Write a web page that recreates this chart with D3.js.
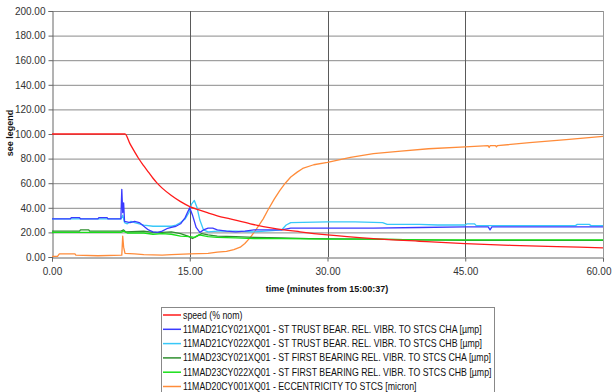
<!DOCTYPE html>
<html><head><meta charset="utf-8">
<script src="https://cdn.jsdelivr.net/npm/d3@7/dist/d3.min.js"></script>
<style>body{margin:0;background:#fff;}svg{display:block;font-family:"Liberation Sans",Arial,sans-serif;}</style>
</head><body><svg id="c" width="612" height="392"></svg>
<script>
const xTicks = [0, 15, 30, 45, 60];
const yTicks = [0, 20, 40, 60, 80, 100, 120, 140, 160, 180, 200];
const xTitle = "time (minutes from 15:00:37)";
const yTitle = "see legend";
const seriesNames = [
  "speed (% nom)",
  "11MAD21CY021XQ01 - ST TRUST BEAR. REL. VIBR. TO STCS CHA [µmp]",
  "11MAD21CY022XQ01 - ST TRUST BEAR. REL. VIBR. TO STCS CHB [µmp]",
  "11MAD23CY021XQ01 - ST FIRST BEARING REL. VIBR. TO STCS CHA [µmp]",
  "11MAD23CY022XQ01 - ST FIRST BEARING REL. VIBR. TO STCS CHB [µmp]",
  "11MAD20CY001XQ01 - ECCENTRICITY TO STCS [micron]"
];
const seriesColors = ["#ff1a1a", "#3a3aff", "#38c8f8", "#2f8f2f", "#19e019", "#ff8c3a"];

const speed = [[0,100],[7.95,100],[8.5,92],[9,85.5],[9.4,80.5],[10,74],[10.5,69],[11,64],[11.4,60.5],[12,56],[13,50],[14,45],[15,41],[16,38.3],[17,35.8],[18,33.5],[19.4,31],[21.6,27],[24,23.5],[27,20.5],[30,18],[35,15],[40,12.8],[45,10.8],[50,9.5],[55,8.5],[60,7.5]];
const vibr21A = [[0,31],[2,31],[2.1,32],[3,32],[3.1,31],[5,31],[5.1,32],[6,32],[6.1,31],[7.5,31],[7.6,55],[7.7,36],[7.8,44],[7.9,29],[8.5,28],[9,29],[9.5,28],[10,25],[10.5,22],[11,20.5],[11.5,20],[12,21],[12.5,23],[13,24],[13.5,25],[14,27],[14.5,32],[14.8,37],[15.0,40],[15.3,34],[15.7,24],[16.1,20],[16.5,22],[17,23.5],[17.5,23.5],[18,22],[19,21],[20,20.5],[21,21],[22,22],[23,22],[24,22],[25,22],[26,23.5],[30,23.5],[35,23.5],[40,24],[45,24.5],[47.5,24.5],[47.7,22],[47.9,24.5],[60,24.5]];
const vibr21B = [[0,31],[7.5,31],[7.7,34],[7.9,28],[8.2,27],[8.6,29],[9,28],[10,26],[11,25],[12,25],[13,25],[13.5,26],[14,28],[14.5,31],[14.9,36],[15.2,43],[15.5,46],[15.8,40],[16.1,30],[16.5,22],[17,20.5],[18,21],[20,21],[22,20.5],[24,21.5],[25,22],[25.5,26],[26,28],[30,28.5],[33,28.5],[36,28],[36.5,26.5],[40,26.5],[42,26],[45,26],[45.2,27],[46,27],[46.2,25.5],[57,25.5],[57.2,26.5],[58.5,26.5],[58.7,25.5],[60,25.5]];
const bear23A = [[0,21],[3,21],[3.1,22],[4,22],[4.1,21],[7.5,21],[7.8,22],[8,20.5],[10,21],[11,20],[12,20],[13,20.5],[14,19],[14.8,17],[15.3,15],[15.8,17],[16.3,19],[17,18],[18,17],[20,16.5],[22,16],[25,15.5],[28,15],[35,14.5],[40,14],[45,13.5],[60,13.5]];
const bear23B = [[0,20],[7.5,20],[7.8,21],[8.2,19.5],[10,19.5],[11,18.5],[12,19],[13,18.5],[14,17],[15,16.5],[15.5,16],[16,18],[17,16.5],[18,16],[20,15.5],[22,15],[25,15],[30,14.5],[35,14.5],[40,14],[45,14],[60,14]];
const eccent = [[0,0.5],[0.6,0.5],[0.8,2.5],[2.5,2.5],[2.6,1.5],[5,1],[7.6,1.5],[7.7,17],[7.8,8],[7.95,3],[9,2.5],[10,2],[12,1.5],[13,2],[15,2.5],[17,3],[18,4],[19,4.5],[19.8,6],[20.5,8],[21,11],[21.6,16],[22.2,22],[23,31],[23.5,38],[24.2,47],[24.8,54],[25.4,60],[26,65],[26.7,69],[27.3,72],[28.5,75],[30,77],[32.5,81],[35,84],[38,86],[41,88],[45,89.5],[47.5,90.5],[47.6,89],[47.7,90.5],[48.3,90.5],[48.4,89.5],[48.5,90.5],[52,93],[56,95.5],[60,98]];
const seriesData = [speed, vibr21A, vibr21B, bear23A, bear23B, eccent];

const svg = d3.select("#c");
const m = {l:52, r:603, t:11, b:257};
const x = d3.scaleLinear().domain([0,60]).range([m.l, m.r]);
const y = d3.scaleLinear().domain([0,200]).range([m.b, m.t]);

svg.append("g").selectAll("line").data(yTicks.filter(d=>d>0)).join("line")
  .attr("x1", m.l).attr("x2", m.r).attr("y1", d=>y(d)+0.5).attr("y2", d=>y(d)+0.5)
  .attr("stroke", "#8a8a8a").attr("stroke-width", 1);
svg.append("g").selectAll("line").data(xTicks.filter(d=>d>0)).join("line")
  .attr("x1", d=>Math.round(x(d))+0.5).attr("x2", d=>Math.round(x(d))+0.5).attr("y1", m.t).attr("y2", m.b)
  .attr("stroke", d=> d===60 ? "#9a9a9a" : "#5a5a5a").attr("stroke-width", 1);

const yAxis = d3.axisLeft(y).tickValues(yTicks).tickFormat(d3.format(".2f")).tickSize(4).tickPadding(3);
const gy = svg.append("g").attr("transform", `translate(${m.l+0.5},0)`).call(yAxis);
const xAxis = d3.axisBottom(x).tickValues(xTicks).tickFormat(d3.format(".2f")).tickSize(4).tickPadding(6);
const gx = svg.append("g").attr("transform", `translate(0,${m.b+0.5})`).call(xAxis);
[gx, gy].forEach(g => {
  g.select(".domain").attr("stroke", "#666");
  g.selectAll(".tick line").attr("stroke", "#666");
  g.selectAll("text").attr("fill", "#333").style("font-size", "10px").style("font-family", "'Liberation Sans',Arial,sans-serif");
});
gx.selectAll(".tick").filter(d=>d===60).select("text").attr("text-anchor", "end").attr("dx", 8);

const line = d3.line().x(d=>x(d[0])).y(d=>y(d[1]));
const smooth = d3.line().curve(d3.curveMonotoneX).x(d=>x(d[0])).y(d=>y(d[1]));
const order = [5, 3, 4, 2, 1, 0];
svg.append("g").selectAll("path").data(order).join("path")
  .attr("d", i=> i===0 ? smooth(seriesData[i]) : line(seriesData[i])).attr("fill", "none")
  .attr("stroke", i=>seriesColors[i]).attr("stroke-width", 1.3).attr("stroke-linejoin", "round");

svg.append("text").attr("x", 327).attr("y", 292).attr("text-anchor", "middle")
  .style("font-size", "9px").style("font-weight", "bold").attr("fill", "#111").text(xTitle);
svg.append("text").attr("transform", "translate(13,133) rotate(-90)").attr("text-anchor", "middle")
  .style("font-size", "9px").style("font-weight", "bold").attr("fill", "#111").text(yTitle);

const lg = svg.append("g");
lg.append("rect").attr("x", 161.5).attr("y", 307.5).attr("width", 333).attr("height", 100)
  .attr("fill", "#fff").attr("stroke", "#888");
const rows = lg.selectAll("g.r").data(seriesNames).join("g").attr("class","r")
  .attr("transform", (d,i)=>`translate(0,${315 + i*14.3})`);
rows.append("line").attr("x1", 163).attr("x2", 181).attr("y1", 0).attr("y2", 0)
  .attr("stroke", (d,i)=>seriesColors[i]).attr("stroke-width", 1.5);
const txts = rows.append("text").attr("x", 0).attr("y", 3.5).style("font-size", "10px").attr("fill", "#111").text(d=>d);
const maxW = d3.max(txts.nodes(), n=>n.getComputedTextLength());
const sx = Math.min(1, 309 / maxW);
txts.attr("transform", `translate(183,0) scale(${sx},1)`);
</script></body></html>
